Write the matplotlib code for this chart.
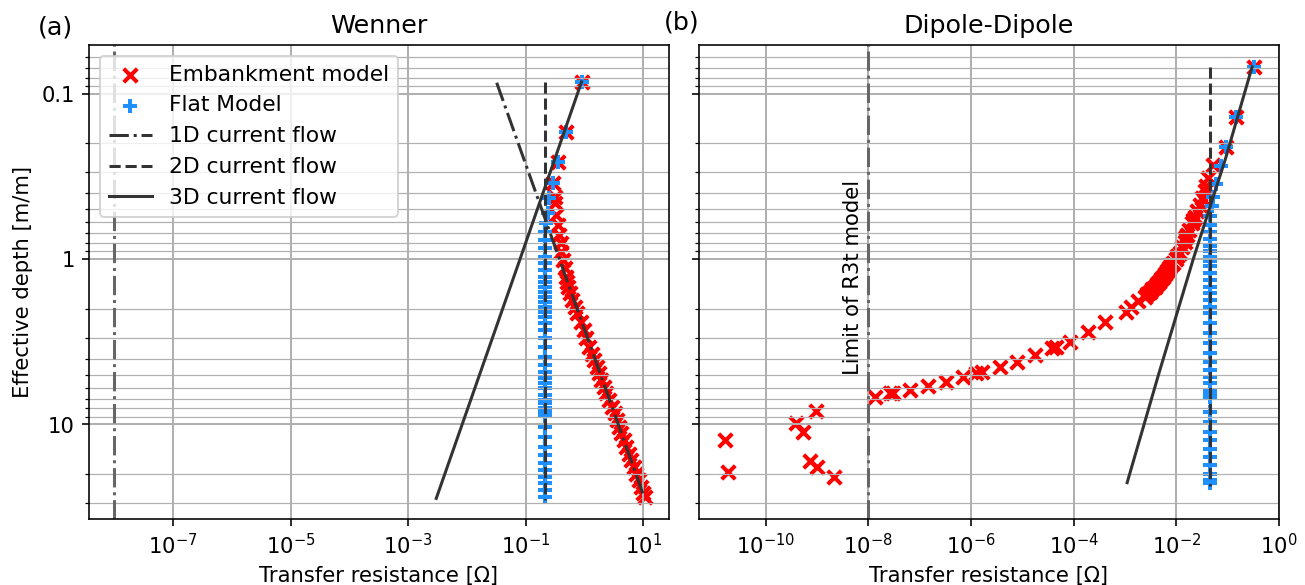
import numpy as np
import matplotlib
matplotlib.use('Agg')
import matplotlib.pyplot as plt
from matplotlib.ticker import FuncFormatter, NullFormatter, NullLocator, FixedLocator

plt.rcParams['font.size'] = 10.5

# ---- Wenner (a) ----
# embankment model (depth [m/m], transfer resistance [Ohm])
wen_emb_depth = [0.085, 0.171, 0.258, 0.346, 0.42, 0.46, 0.542, 0.62, 0.716, 0.804,
                 0.903, 1.01, 1.14, 1.28, 1.37, 1.47, 1.6, 1.77, 1.95, 2.13, 2.4,
                 2.69, 3.0, 3.39, 3.75, 4.08, 4.5, 4.91, 5.4, 5.92, 6.5,
                 7.11, 7.8, 8.57, 9.4, 10.3, 11.3, 12.4, 13.7, 15.0, 16.5,
                 18.0, 19.8, 21.7, 24.0, 26.1, 27.5]
wen_emb_res = [0.89, 0.48, 0.35, 0.29, 0.31, 0.32, 0.33, 0.357, 0.367, 0.39,
               0.405, 0.435, 0.457, 0.49, 0.51, 0.53, 0.57, 0.61, 0.68, 0.745, 0.86,
               0.966, 1.07, 1.17, 1.32, 1.43, 1.6, 1.74, 1.93, 2.11, 2.35,
               2.57, 2.9, 3.34, 3.55, 3.8, 4.2, 4.62, 5.1, 5.6, 6.2,
               6.84, 7.5, 8.3, 9.1, 10.0, 10.8]

# flat model
wen_flat_depth = [0.085, 0.171, 0.258, 0.346, 0.43, 0.525, 0.608, 0.683, 0.767, 0.862,
                  0.97, 1.06, 1.17, 1.28, 1.37, 1.47, 1.58, 1.69, 1.81, 1.94,
                  2.08, 2.23, 2.45, 2.69, 3.02, 3.39, 3.9, 4.37, 4.8, 5.26,
                  5.64, 6.05, 6.64, 7.12, 7.46, 8.0, 8.38, 8.78, 10.3, 11.9,
                  13.6, 15.3, 17.2, 18.9, 20.7, 22.7, 24.9, 27.4]
wen_flat_res = [0.89, 0.48, 0.35, 0.29, 0.25, 0.235, 0.217, 0.21, 0.21, 0.21,
                0.21, 0.21, 0.21, 0.21, 0.21, 0.21, 0.21, 0.21, 0.21, 0.21,
                0.21, 0.21, 0.21, 0.21, 0.21, 0.21, 0.21, 0.21, 0.21, 0.21,
                0.21, 0.21, 0.21, 0.21, 0.21, 0.21, 0.21, 0.21, 0.21, 0.21,
                0.21, 0.21, 0.21, 0.21, 0.21, 0.21, 0.21, 0.21]

# analytical current flow curves
wen_1d_depth = [0.086, 26.1]
wen_1d_res = [0.032, 9.8]
wen_2d_depth = [0.085, 28.5]
wen_2d_res = [0.21, 0.21]
wen_3d_depth = [0.085, 1.0, 28.0]
wen_3d_res = [0.89, 0.08, 0.003]

# ---- Dipole-Dipole (b) ----
dd_emb_depth = [0.069, 0.138, 0.209, 0.27, 0.325, 0.36, 0.39, 0.43, 0.47, 0.51,
                0.555, 0.58, 0.61, 0.668, 0.72, 0.75, 0.785, 0.85, 0.92, 0.96,
                1.0, 1.05, 1.09, 1.13, 1.18, 1.23, 1.28, 1.33, 1.37, 1.42,
                1.47, 1.52, 1.58, 1.63, 1.69, 1.8, 1.94, 2.08, 2.39, 2.75, 3.16,
                3.39, 3.47, 3.8, 4.18, 4.52, 4.8, 4.91, 5.19, 5.52, 5.86,
                6.2, 6.45, 6.49, 6.86,
                12.4, 19.3, 9.85, 11.1, 8.26, 16.6, 18.0, 20.9]
dd_emb_res = [0.32, 0.147, 0.094, 0.053, 0.041, 0.038, 0.0356, 0.032, 0.0284, 0.0255,
              0.0227, 0.021, 0.02, 0.018, 0.016, 0.015, 0.0145, 0.013, 0.0116, 0.0105,
              0.0097, 0.0088, 0.008, 0.0073, 0.0067, 0.006, 0.0055, 0.005, 0.0046, 0.0042,
              0.0038, 0.0034, 0.0031, 0.0027, 0.0024, 0.0018, 0.00133, 1.05e-3, 4.0e-4, 1.9e-4, 8.4e-5,
              4.6e-5, 3.7e-5, 1.74e-5, 7.7e-6, 3.6e-6, 1.6e-6, 1.27e-6, 7e-7, 3.3e-7, 1.45e-7,
              6.4e-8, 3.0e-8, 2.6e-8, 1.33e-8,
              1.6e-11, 1.8e-11, 3.9e-10, 5.3e-10, 9.5e-10, 7.4e-10, 1.0e-9, 2.1e-9]

dd_flat_depth = [0.069, 0.138, 0.209, 0.274, 0.35, 0.42, 0.48, 0.55, 0.62, 0.69,
                 0.76, 0.83, 0.9, 0.97, 1.03, 1.1, 1.22, 1.34, 1.47, 1.61,
                 1.77, 1.94, 2.13, 2.45, 2.81, 3.23, 3.72, 4.18, 4.69, 5.14,
                 5.64, 6.2, 6.49, 6.8, 8.38, 9.63, 11.1, 12.4, 14.0, 15.7,
                 17.6, 19.8, 21.7, 22.6]
dd_flat_res = [0.32, 0.147, 0.094, 0.075, 0.06, 0.053, 0.05, 0.046, 0.046, 0.046,
               0.046, 0.046, 0.046, 0.046, 0.046, 0.046, 0.046, 0.046, 0.046, 0.046,
               0.046, 0.046, 0.046, 0.046, 0.046, 0.046, 0.046, 0.046, 0.046, 0.046,
               0.046, 0.046, 0.046, 0.046, 0.046, 0.046, 0.046, 0.046, 0.046, 0.046,
               0.046, 0.046, 0.046, 0.046]

dd_2d_depth = [0.069, 23.5]
dd_2d_res = [0.046, 0.046]
dd_3d_depth = [0.069, 0.25, 1.0, 5.0, 22.5]
dd_3d_res = [0.30, 0.09, 0.0214, 0.0045, 0.0011]

r3t_limit = 1e-8

line_col = '0.2'
mk = dict(s=45, linewidths=2.0)

fig, (ax1, ax2) = plt.subplots(1, 2, sharey=True, figsize=(9, 4.032), dpi=145.11)
fig.subplots_adjust(left=0.0681, right=0.9793, top=0.9231, bottom=0.1128, wspace=0.052)

# left panel: Wenner
ax1.axvline(r3t_limit, color='0.4', ls='-.', lw=1.5)
ax1.scatter(wen_emb_res, wen_emb_depth, marker='x', color='red', label='Embankment model', **mk)
ax1.scatter(wen_flat_res, wen_flat_depth, marker='+', color='dodgerblue', label='Flat Model', **mk)
ax1.plot(wen_1d_res, wen_1d_depth, color=line_col, ls='-.', label='1D current flow')
ax1.plot(wen_2d_res, wen_2d_depth, color=line_col, ls='--', label='2D current flow')
ax1.plot(wen_3d_res, wen_3d_depth, color=line_col, ls='-', label='3D current flow')
ax1.set_title('Wenner')
ax1.text(-0.058, 1.012, '(a)', transform=ax1.transAxes, ha='center', va='bottom', fontsize=12.6)
ax1.legend(loc='upper left', fontsize=10.8)

# right panel: Dipole-Dipole
ax2.axvline(r3t_limit, color='0.4', ls='-.', lw=1.5)
ax2.text(7.9e-9, 5.0, 'Limit of R3t model', rotation=90, ha='right', va='bottom')
ax2.scatter(dd_emb_res, dd_emb_depth, marker='x', color='red', **mk)
ax2.scatter(dd_flat_res, dd_flat_depth, marker='+', color='dodgerblue', **mk)
ax2.plot(dd_2d_res, dd_2d_depth, color=line_col, ls='--')
ax2.plot(dd_3d_res, dd_3d_depth, color=line_col, ls='-')
ax2.set_title('Dipole-Dipole')
ax2.text(-0.03, 1.022, '(b)', transform=ax2.transAxes, ha='center', va='bottom', fontsize=12.6)

for ax, xlim, xt in [(ax1, (3.7e-9, 27.2), [1e-7, 1e-5, 1e-3, 1e-1, 1e1]),
                     (ax2, (5.0e-12, 1.0), [1e-10, 1e-8, 1e-6, 1e-4, 1e-2, 1e0])]:
    ax.set_xscale('log')
    ax.set_yscale('log')
    ax.set_xlim(*xlim)
    ax.xaxis.set_major_locator(FixedLocator(xt))
    ax.xaxis.set_minor_locator(NullLocator())
    ax.set_xlabel('Transfer resistance [Ω]')
    ax.grid(True, which='major', color='#b0b0b0', lw=1.0)
    ax.grid(True, which='minor', axis='y', color='#b0b0b0', lw=0.6)

ax1.set_ylim(37.3, 0.0508)
ax1.yaxis.set_major_formatter(FuncFormatter(lambda v, p: f'{v:g}'))
ax1.yaxis.set_minor_formatter(NullFormatter())
ax1.set_ylabel('Effective depth [m/m]')

fig.savefig('out.png', dpi=145.11)
